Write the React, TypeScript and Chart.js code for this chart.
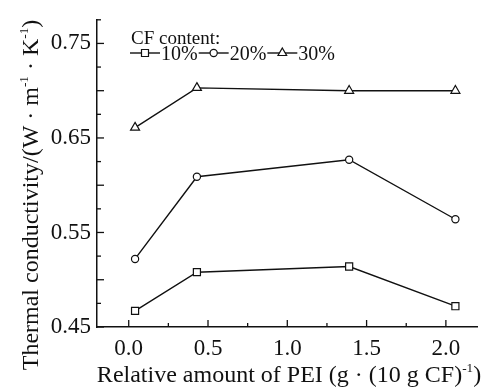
import React, { useEffect, useRef } from "react";
import { Chart, registerables } from "chart.js";

Chart.register(...registerables);

// ---- data ----
const peiAmount = [0.04, 0.43, 1.39, 2.06];
const cf10 = [0.467, 0.508, 0.514, 0.472];
const cf20 = [0.522, 0.609, 0.627, 0.564];
const cf30 = [0.661, 0.703, 0.7, 0.7];
const seriesNames = ["10%", "20%", "30%"];
const pointStyles = ["rect", "circle", "triangle"];

const xTickValues = [0, 0.25, 0.5, 0.75, 1.0, 1.25, 1.5, 1.75, 2.0];
const xLabelValues = [0, 0.5, 1.0, 1.5, 2.0];
const yTickValues = [0.45, 0.475, 0.5, 0.525, 0.55, 0.575, 0.6, 0.625, 0.65, 0.675, 0.7, 0.725, 0.75, 0.775];
const yLabelValues = [0.45, 0.55, 0.65, 0.75];
const yMajorValues = [0.45, 0.5, 0.55, 0.6, 0.65, 0.7, 0.75];

const legendTitle = "CF content:";
const xTitle = [
  { t: "Relative amount of PEI (g · (10 g CF)" },
  { t: "-1", sup: true },
  { t: ")" },
];
const yTitle = [
  { t: "Thermal conductivity/(W · m" },
  { t: "-1", sup: true },
  { t: " · K" },
  { t: "-1", sup: true },
  { t: ")" },
];

const FONT = '"Liberation Serif", "Times New Roman", serif';
const INK = "#111111";

const near = (a: number, list: number[]) => list.some((v) => Math.abs(v - a) < 1e-6);

function richWidth(ctx: CanvasRenderingContext2D, segs: any[], size: number) {
  let w = 0;
  for (const s of segs) {
    ctx.font = `${s.sup ? size * 0.55 : size}px ${FONT}`;
    w += ctx.measureText(s.t).width;
  }
  return w;
}

function drawRich(ctx: CanvasRenderingContext2D, segs: any[], x: number, y: number, size: number) {
  let cx = x;
  ctx.textBaseline = "alphabetic";
  ctx.textAlign = "left";
  for (const s of segs) {
    const fs = s.sup ? size * 0.55 : size;
    ctx.font = `${fs}px ${FONT}`;
    ctx.fillText(s.t, cx, s.sup ? y - size * 0.42 : y);
    cx += ctx.measureText(s.t).width;
  }
}

function drawMarker(ctx: CanvasRenderingContext2D, style: string, x: number, y: number) {
  ctx.beginPath();
  if (style === "rect") {
    ctx.rect(x - 3.5, y - 3.5, 7, 7);
  } else if (style === "circle") {
    ctx.arc(x, y, 3.6, 0, Math.PI * 2);
  } else {
    const r = 5;
    ctx.moveTo(x, y - r);
    ctx.lineTo(x + r * 0.866, y + r * 0.5);
    ctx.lineTo(x - r * 0.866, y + r * 0.5);
    ctx.closePath();
  }
  ctx.fillStyle = "#ffffff";
  ctx.fill();
  ctx.lineWidth = 1.2;
  ctx.strokeStyle = INK;
  ctx.stroke();
}

const decorPlugin = {
  id: "decor",
  afterDraw(chart: any) {
    const ctx: CanvasRenderingContext2D = chart.ctx;
    const xs = chart.scales.x;
    const ys = chart.scales.y;
    const area = chart.chartArea;
    ctx.save();
    ctx.strokeStyle = INK;
    ctx.lineWidth = 1.3;
    // inward ticks
    for (const t of ys.ticks) {
      const py = ys.getPixelForValue(t.value);
      const len = near(t.value, yMajorValues) ? 7 : 4;
      ctx.beginPath();
      ctx.moveTo(area.left, py);
      ctx.lineTo(area.left + len, py);
      ctx.stroke();
    }
    for (const t of xs.ticks) {
      const px = xs.getPixelForValue(t.value);
      const len = near(t.value, xLabelValues) ? 7 : 4;
      ctx.beginPath();
      ctx.moveTo(px, area.bottom);
      ctx.lineTo(px, area.bottom - len);
      ctx.stroke();
    }
    // axis titles
    ctx.fillStyle = INK;
    const tsize = 24;
    const xw = richWidth(ctx, xTitle, tsize);
    drawRich(ctx, xTitle, 289 - xw / 2, 382, tsize);
    const yw = richWidth(ctx, yTitle, tsize);
    ctx.save();
    ctx.translate(38, 195);
    ctx.rotate(-Math.PI / 2);
    drawRich(ctx, yTitle, -yw / 2, 0, tsize);
    ctx.restore();
    // legend
    ctx.font = `19px ${FONT}`;
    ctx.textBaseline = "alphabetic";
    ctx.textAlign = "left";
    ctx.fillText(legendTitle, 131, 44);
    let lx = 130;
    const ly = 53;
    const L = 30;
    chart.data.datasets.forEach((ds: any, i: number) => {
      ctx.strokeStyle = INK;
      ctx.lineWidth = 1.4;
      ctx.beginPath();
      ctx.moveTo(lx, ly);
      ctx.lineTo(lx + L, ly);
      ctx.stroke();
      drawMarker(ctx, pointStyles[i], lx + L / 2, ly);
      ctx.fillStyle = INK;
      ctx.font = `20px ${FONT}`;
      ctx.fillText(ds.label, lx + L + 1, 60);
      lx += L + 1 + ctx.measureText(ds.label).width + 1;
    });
    ctx.restore();
  },
};

export default function App() {
  const canvasRef = useRef<HTMLCanvasElement | null>(null);

  useEffect(() => {
    if (!canvasRef.current) return;
    const all = [cf10, cf20, cf30];
    const chart = new Chart(canvasRef.current, {
      type: "line",
      data: {
        datasets: all.map((vals, i) => ({
          label: seriesNames[i],
          data: vals.map((v, j) => ({ x: peiAmount[j], y: v })),
          borderColor: INK,
          borderWidth: 1.4,
          pointStyle: pointStyles[i] as any,
          pointRadius: i === 0 ? 5 : i === 1 ? 3.6 : 5.2,
          pointBorderWidth: 1.2,
          pointBackgroundColor: "#ffffff",
          pointBorderColor: INK,
          tension: 0,
          fill: false,
        })),
      },
      options: {
        animation: false,
        responsive: true,
        maintainAspectRatio: false,
        layout: { padding: { left: 0, right: 5, top: 19, bottom: 0 } },
        plugins: {
          legend: { display: false },
          tooltip: { enabled: false },
        },
        scales: {
          x: {
            type: "linear",
            min: -0.2,
            max: 2.2,
            afterBuildTicks: (axis: any) => {
              axis.ticks = xTickValues.map((v) => ({ value: v }));
            },
            afterFit: (axis: any) => {
              axis.height = 60;
            },
            grid: { display: false, drawTicks: false },
            border: { display: true, color: INK, width: 1.5 },
            ticks: {
              autoSkip: false,
              maxRotation: 0,
              padding: 8,
              color: INK,
              font: { family: FONT, size: 23 },
              callback: (v: any) => (near(Number(v), xLabelValues) ? Number(v).toFixed(1) : ""),
            },
          },
          y: {
            type: "linear",
            min: 0.45,
            max: 0.775,
            afterBuildTicks: (axis: any) => {
              axis.ticks = yTickValues.map((v) => ({ value: v }));
            },
            afterFit: (axis: any) => {
              axis.width = 97;
            },
            grid: { display: false, drawTicks: false },
            border: { display: true, color: INK, width: 1.5 },
            ticks: {
              autoSkip: false,
              padding: 6,
              color: INK,
              font: { family: FONT, size: 23 },
              callback: (v: any) => (near(Number(v), yLabelValues) ? Number(v).toFixed(2) : ""),
            },
          },
        },
      },
      plugins: [decorPlugin],
    });
    return () => chart.destroy();
  }, []);

  return (
    <div style={{ position: "fixed", left: 0, top: 0, width: 484, height: 387, background: "#ffffff" }}>
      <canvas ref={canvasRef} />
    </div>
  );
}
